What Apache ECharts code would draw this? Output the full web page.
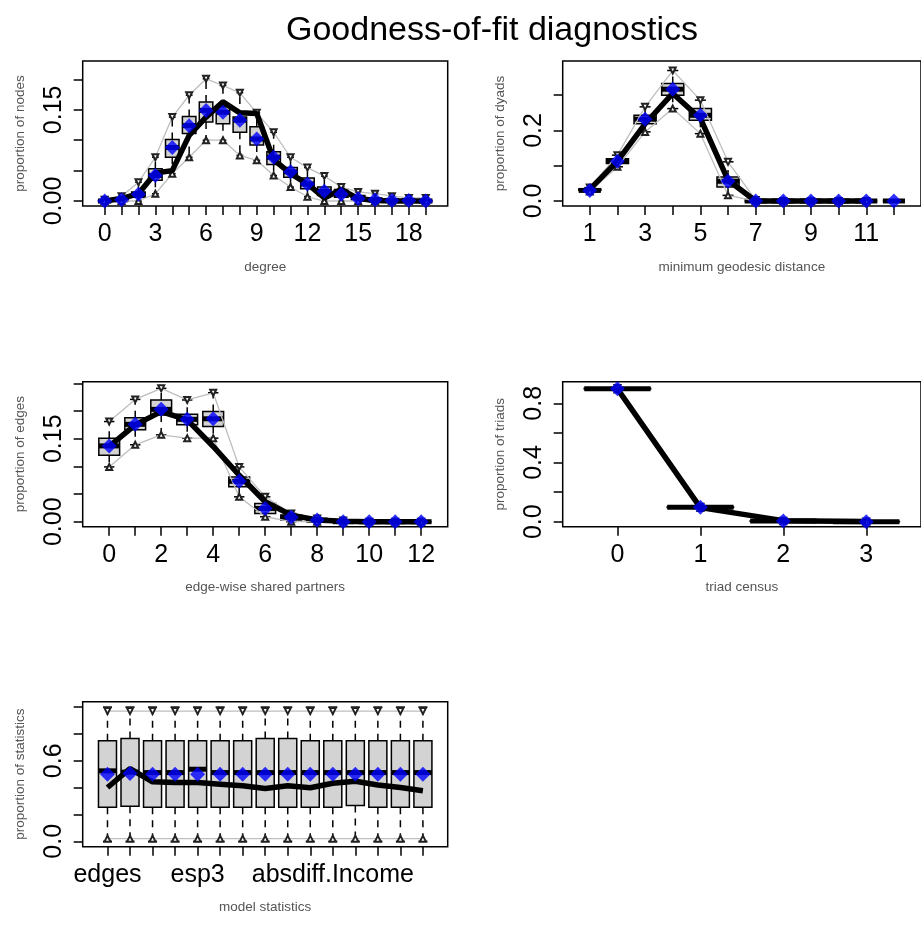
<!DOCTYPE html>
<html><head><meta charset="utf-8">
<script src="https://cdn.jsdelivr.net/npm/echarts@6/dist/echarts.min.js"></script>
<style>html,body{margin:0;padding:0;background:#fff}#c{width:921px;height:926px}</style>
</head><body><div id="c"></div>
<script>
// ---------- Panel 1: degree ----------
const degreeX = [0,1,2,3,4,5,6,7,8,9,10,11,12,13,14,15,16,17,18,19];
const degreeObs = [0,0.004,0.012,0.046,0.050,0.108,0.138,0.163,0.145,0.144,0.068,0.045,0.028,0.005,0.019,0.004,0.001,0,0,0];
const degreeMed = [0,0.002,0.011,0.042,0.088,0.124,0.149,0.146,0.133,0.102,0.072,0.048,0.028,0.016,0.011,0.004,0.002,0.001,0.001,0];
const degreeQ1 = [0,0,0.006,0.034,0.072,0.111,0.130,0.127,0.113,0.092,0.060,0.039,0.020,0.009,0.006,0.002,0,0,0,0];
const degreeQ3 = [0,0.004,0.015,0.053,0.101,0.139,0.163,0.155,0.138,0.122,0.081,0.055,0.038,0.023,0.019,0.009,0.005,0.003,0.002,0];
const degreeLo = [0,0,0,0.012,0.045,0.072,0.100,0.100,0.075,0.067,0.042,0.023,0.007,0,0,0,0,0,0,0];
const degreeHi = [0.002,0.008,0.031,0.072,0.138,0.174,0.201,0.190,0.178,0.145,0.113,0.072,0.055,0.041,0.023,0.015,0.012,0.008,0.005,0.005];
const degreeXLabels = [0,3,6,9,12,15,18];
const degreeYTicks = [0,0.05,0.10,0.15,0.20];
const degreeYLabels = [0,0.15];

// ---------- Panel 2: minimum geodesic distance ----------
const distX = [1,2,3,4,5,6,7,8,9,10,11,12];
const distObs = [0.033,0.113,0.219,0.305,0.234,0.059,0,0,0,0,0,null];
const distMed = [0.030,0.113,0.232,0.317,0.243,0.056,0,0,0,0,0,0];
const distQ1 = [0.030,0.106,0.219,0.300,0.229,0.040,0,0,0,0,0,0];
const distQ3 = [0.034,0.120,0.243,0.333,0.262,0.068,0,0,0,0,0,0];
const distLo = [0.027,0.097,0.196,0.262,0.191,0.016,0,0,0,0,0,0];
const distHi = [0.038,0.130,0.267,0.370,0.286,0.111,0.003,0,0,0,0,0];
const distBoundLo = [0.027,0.097,0.196,0.262,0.191,0.016,0,0,0,0,0,null];
const distBoundHi = [0.038,0.130,0.267,0.370,0.286,0.111,0.003,0,0,0,0,null];
const distXLabels = [1,3,5,7,9,11];
const distYTicks = [0,0.1,0.2,0.3];
const distYLabels = [0,0.2];

// ---------- Panel 3: edge-wise shared partners ----------
const espX = [0,1,2,3,4,5,6,7,8,9,10,11,12];
const espObs = [0.136,0.175,0.199,0.184,0.136,0.084,0.036,0.012,0.003,0.001,0,0,0];
const espMed = [0.137,0.176,0.203,0.185,0.186,0.073,0.024,0.008,0.003,0,0,0,0];
const espQ1 = [0.120,0.166,0.193,0.175,0.172,0.063,0.015,0.003,0,0,0,0,0];
const espQ3 = [0.151,0.188,0.220,0.194,0.199,0.081,0.033,0.012,0.004,0,0,0,0];
const espLo = [0.099,0.139,0.157,0.151,0.151,0.045,0.009,0,0,0,0,0,0];
const espHi = [0.181,0.221,0.241,0.220,0.233,0.099,0.045,0.015,0.006,0.002,0,0,0];
const espXLabels = [0,2,4,6,8,10,12];
const espYTicks = [0,0.05,0.10,0.15,0.20,0.25];
const espYLabels = [0,0.15];

// ---------- Panel 4: triad census ----------
const triadX = [0,1,2,3];
const triadObs = [0.897,0.095,0.007,0.0005];
const triadMed = [0.899,0.097,0.004,0.0003];
const triadQ1 = [0.896,0.095,0.003,0];
const triadQ3 = [0.901,0.099,0.005,0.0005];
const triadLo = [0.894,0.093,0.002,0];
const triadHi = [0.903,0.101,0.006,0.001];
const triadXLabels = [0,1,2,3];
const triadYTicks = [0,0.2,0.4,0.6,0.8];
const triadYLabels = [0,0.4,0.8];

// ---------- Panel 5: model statistics ----------
const statX = [1,2,3,4,5,6,7,8,9,10,11,12,13,14,15];
const statObs = [0.401,0.542,0.443,0.438,0.438,0.426,0.414,0.394,0.414,0.399,0.433,0.448,0.419,0.401,0.377];
const statBlue = [0.50,0.505,0.50,0.50,0.50,0.50,0.50,0.50,0.50,0.50,0.50,0.50,0.50,0.50,0.50];
const statMed = [0.525,0.515,0.512,0.512,0.537,0.512,0.512,0.512,0.512,0.512,0.512,0.512,0.512,0.512,0.512];
const statQ1 = [0.254,0.261,0.254,0.254,0.254,0.254,0.254,0.254,0.254,0.254,0.254,0.266,0.254,0.254,0.254];
const statQ3 = [0.750,0.766,0.750,0.750,0.750,0.750,0.750,0.766,0.766,0.750,0.750,0.750,0.750,0.750,0.750];
const statLo = [0,0,0,0,0,0,0,0,0,0,0,0,0,0,0];
const statHi = [1,1,1,1,1,1,1,1,1,1,1,1,1,1,1];
const statBoundLo = [0.02,0.02,0.02,0.02,0.02,0.02,0.02,0.02,0.02,0.02,0.02,0.02,0.02,0.02,0.02];
const statBoundHi = [0.97,0.97,0.97,0.97,0.97,0.97,0.97,0.97,0.97,0.97,0.97,0.97,0.97,0.97,0.97];
const statLabelPos = [1,5,11];
const statLabelText = ['edges','esp3','absdiff.Income'];
const statYTicks = [0,0.2,0.4,0.6,0.8,1.0];
const statYLabels = [0,0.6];

const titleText = 'Goodness-of-fit diagnostics';

// ---------- layout / styles ----------
const FONT = 'Liberation Sans';
const NAME_SIZE = 13.5;
const panels = [
  {x:degreeX, obs:degreeObs, blue:degreeMed, med:degreeMed, q1:degreeQ1, q3:degreeQ3, lo:degreeLo, hi:degreeHi, bLo:degreeLo, bHi:degreeHi,
   xTicks:degreeX, xLabels:degreeXLabels, yTicks:degreeYTicks, yLabels:degreeYLabels, dec:2,
   xName:'degree', yName:'proportion of nodes', left:82.7, top:61, xmin:-1.3, xmax:20.3, ymin:-0.0082, ymax:0.2303},
  {x:distX, obs:distObs, blue:distMed, med:distMed, q1:distQ1, q3:distQ3, lo:distLo, hi:distHi, bLo:distBoundLo, bHi:distBoundHi,
   xTicks:distX, xLabels:distXLabels, yTicks:distYTicks, yLabels:distYLabels, dec:1,
   xName:'minimum geodesic distance', yName:'proportion of dyads', left:562.7, top:61, xmin:0.02, xmax:12.98, ymin:-0.0142, ymax:0.397},
  {x:espX, obs:espObs, blue:espMed, med:espMed, q1:espQ1, q3:espQ3, lo:espLo, hi:espHi, bLo:espLo, bHi:espHi,
   xTicks:espX, xLabels:espXLabels, yTicks:espYTicks, yLabels:espYLabels, dec:2,
   xName:'edge-wise shared partners', yName:'proportion of edges', left:82.7, top:381.7, xmin:-1.02, xmax:13.02, ymin:-0.009, ymax:0.253},
  {x:triadX, obs:triadObs, blue:triadMed, med:triadMed, q1:triadQ1, q3:triadQ3, lo:triadLo, hi:triadHi, bLo:triadLo, bHi:triadHi,
   xTicks:triadX, xLabels:triadXLabels, yTicks:triadYTicks, yLabels:triadYLabels, dec:1,
   xName:'triad census', yName:'proportion of triads', left:562.7, top:381.7, xmin:-0.66, xmax:3.66, ymin:-0.034, ymax:0.946},
  {x:statX, obs:statObs, blue:statBlue, med:statMed, q1:statQ1, q3:statQ3, lo:statLo, hi:statHi, bLo:statBoundLo, bHi:statBoundHi,
   xTicks:statX, xLabels:statLabelPos, xText:statLabelText, yTicks:statYTicks, yLabels:statYLabels, dec:1,
   xName:'model statistics', yName:'proportion of statistics', left:82.7, top:701.7, xmin:-0.1, xmax:16.1, ymin:-0.04, ymax:1.04}
];
const W = 365, H = 145;

function renderBox(params, api) {
  const x = api.value(0);
  const pLo = api.coord([x, api.value(1)]);
  const pQ1 = api.coord([x, api.value(2)]);
  const pMd = api.coord([x, api.value(3)]);
  const pQ3 = api.coord([x, api.value(4)]);
  const pHi = api.coord([x, api.value(5)]);
  const hw = api.size([0.4, 0])[0];
  const cw = api.size([0.2, 0])[0];
  const st = {stroke:'#000', lineWidth:1.5};
  return {type:'group', children:[
    {type:'line', shape:{x1:pQ3[0],y1:pQ3[1],x2:pHi[0],y2:pHi[1]}, style:{stroke:'#000',lineWidth:1.5,lineDash:[7,6]}},
    {type:'line', shape:{x1:pQ1[0],y1:pQ1[1],x2:pLo[0],y2:pLo[1]}, style:{stroke:'#000',lineWidth:1.5,lineDash:[7,6]}},
    {type:'line', shape:{x1:pHi[0]-cw,y1:pHi[1],x2:pHi[0]+cw,y2:pHi[1]}, style:st},
    {type:'line', shape:{x1:pLo[0]-cw,y1:pLo[1],x2:pLo[0]+cw,y2:pLo[1]}, style:st},
    {type:'rect', shape:{x:pQ3[0]-hw,y:pQ3[1],width:2*hw,height:pQ1[1]-pQ3[1]}, style:{fill:'#d3d3d3',stroke:'#000',lineWidth:1.5}},
    {type:'line', shape:{x1:pMd[0]-hw,y1:pMd[1],x2:pMd[0]+hw,y2:pMd[1]}, style:{stroke:'#000',lineWidth:5}}
  ]};
}

const grid = [], xAxis = [], yAxis = [], series = [];
panels.forEach((p, i) => {
  grid.push({left:p.left, top:p.top, width:W, height:H, show:true, borderColor:'#000', borderWidth:1.5, backgroundColor:'rgba(0,0,0,0)'});
  xAxis.push({type:'value', gridIndex:i, min:p.xmin, max:p.xmax,
    axisLine:{show:false, onZero:false}, splitLine:{show:false},
    axisTick:{show:true, customValues:p.xTicks, length:9, lineStyle:{color:'#000', width:1.5}},
    axisLabel:{show:true, customValues:p.xLabels, fontSize:25, fontFamily:FONT, color:'#000', margin:16,
      formatter: p.xText ? (v => p.xText[p.xLabels.indexOf(Math.round(v))] || '') : (v => String(Math.round(v)))},
    name:p.xName, nameLocation:'middle', nameGap:54,
    nameTextStyle:{fontSize:NAME_SIZE, fontFamily:FONT, color:'#555'}});
  yAxis.push({type:'value', gridIndex:i, min:p.ymin, max:p.ymax,
    axisLine:{show:false, onZero:false}, splitLine:{show:false},
    axisTick:{show:true, customValues:p.yTicks, length:9, lineStyle:{color:'#000', width:1.5}},
    axisLabel:{show:true, customValues:p.yLabels, rotate:90, fontSize:25, fontFamily:FONT, color:'#000', margin:16,
      formatter: v => Number(v).toFixed(p.dec)},
    name:p.yName, nameLocation:'middle', nameGap:55,
    nameTextStyle:{fontSize:NAME_SIZE, fontFamily:FONT, color:'#555'}});
  const boxData = p.x.map((x, k) => [x, p.lo[k], p.q1[k], p.med[k], p.q3[k], p.hi[k]]);
  series.push({type:'custom', xAxisIndex:i, yAxisIndex:i, renderItem:renderBox, data:boxData,
    encode:{x:0, y:[1,2,3,4,5]}, z:2, silent:true});
  series.push({type:'line', xAxisIndex:i, yAxisIndex:i, data:p.x.map((x,k)=>[x,p.bHi[k]]),
    lineStyle:{color:'#bebebe', width:1.3}, symbol:'emptyTriangle', symbolRotate:180, symbolSize:6,
    itemStyle:{color:'#222', borderWidth:1}, z:3, silent:true, animation:false});
  series.push({type:'line', xAxisIndex:i, yAxisIndex:i, data:p.x.map((x,k)=>[x,p.bLo[k]]),
    lineStyle:{color:'#bebebe', width:1.3}, symbol:'emptyTriangle', symbolSize:6,
    itemStyle:{color:'#222', borderWidth:1}, z:3, silent:true, animation:false});
  series.push({type:'line', xAxisIndex:i, yAxisIndex:i, data:p.x.map((x,k)=>[x,p.obs[k]]),
    lineStyle:{color:'#000', width:5.5}, symbol:'none', z:4, silent:true, animation:false});
  series.push({type:'scatter', xAxisIndex:i, yAxisIndex:i, data:p.x.map((x,k)=>[x,p.blue[k]]),
    symbol:'diamond', symbolSize:[15,15], itemStyle:{color:'#0000ff'}, z:5, silent:true, animation:false});
});

const chart = echarts.init(document.getElementById('c'));
chart.setOption({
  animation:false,
  backgroundColor:'#fff',
  title:{text:titleText, left:487, top:9, textAlign:'center',
    textStyle:{fontSize:34, fontWeight:'normal', fontFamily:FONT, color:'#000'}},
  grid, xAxis, yAxis, series
});
</script></body></html>
